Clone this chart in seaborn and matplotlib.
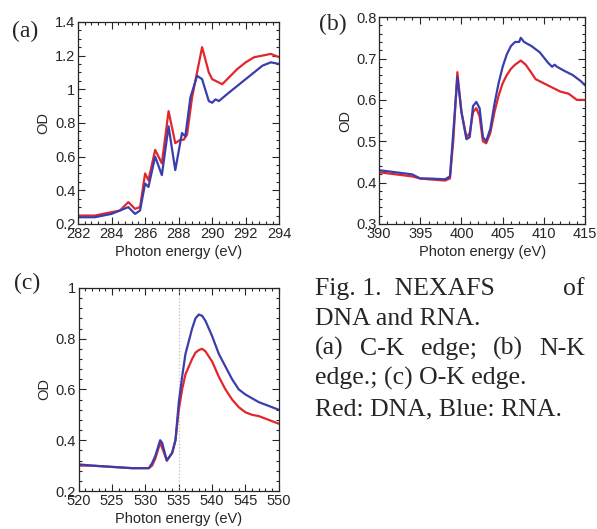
#!/usr/bin/env python3
"""
Purpose: NEXAFS spectra of DNA and RNA (C-K, N-K, O-K edges)
"""

import matplotlib
matplotlib.use('Agg')
import matplotlib.pyplot as plt
from matplotlib.ticker import MultipleLocator, FuncFormatter
import pandas as pd
import seaborn as sns

# --------------------------------------------------
# (a) C-K edge
c_energy = [282, 283, 284, 284.5, 285.0, 285.4, 285.7, 286.0, 286.2, 286.6,
            287.0, 287.4, 287.8, 288.1, 288.3, 288.5, 288.8, 289.0, 289.4,
            289.8, 290.0, 290.6, 291.0, 291.5, 292.0, 292.5, 293.0, 293.5, 294]
c_dna = [0.25, 0.25, 0.27, 0.28, 0.33, 0.29, 0.30, 0.50, 0.46, 0.64,
         0.56, 0.87, 0.68, 0.70, 0.70, 0.73, 0.95, 1.05, 1.25,
         1.10, 1.06, 1.03, 1.07, 1.12, 1.16, 1.19, 1.20, 1.21, 1.19]
c_rna_energy = [282, 283, 284, 284.5, 285.0, 285.4, 285.7, 286.0, 286.2, 286.6,
                287.0, 287.4, 287.8, 288.2, 288.4, 288.7, 289.1, 289.4, 289.8,
                290.0, 290.2, 290.4, 291.0, 291.5, 292.0, 292.5, 293.0, 293.5,
                294]
c_rna = [0.24, 0.24, 0.26, 0.28, 0.30, 0.26, 0.28, 0.44, 0.42, 0.60,
         0.49, 0.78, 0.52, 0.74, 0.72, 0.95, 1.08, 1.06, 0.93,
         0.92, 0.94, 0.93, 0.98, 1.02, 1.06, 1.10, 1.14, 1.16, 1.15]

# (b) N-K edge
n_energy = [390, 392, 394, 395, 396, 398, 398.6, 399.0, 399.5, 400.0, 400.6,
            401.0, 401.4, 401.8, 402.2, 402.6, 403.0, 403.5, 404.0, 404.5,
            405.0, 405.5, 406.0, 406.5, 407.2, 407.8, 408.5, 409.0, 409.5,
            410.0, 411.0, 412.0, 413.0, 414.0, 415.0]
n_dna = [0.425, 0.42, 0.415, 0.41, 0.408, 0.405, 0.41, 0.50, 0.667, 0.57, 0.51,
         0.52, 0.57, 0.58, 0.56, 0.50, 0.495, 0.52, 0.57, 0.61,
         0.64, 0.66, 0.675, 0.685, 0.695, 0.685, 0.665, 0.65, 0.645,
         0.64, 0.63, 0.62, 0.615, 0.60, 0.60]
n_rna_energy = [390, 392, 394, 395, 396, 398, 398.6, 399.0, 399.5, 400.0,
                400.6, 401.0, 401.4, 401.8, 402.2, 402.6, 403.0, 403.5, 404.0,
                404.5, 405.0, 405.5, 406.0, 406.5, 407.0, 407.2, 407.6, 408.5,
                409.5, 410.5, 411.0, 411.3, 411.6, 412.5, 413.5, 414.5, 415.0]
n_rna = [0.43, 0.425, 0.42, 0.41, 0.41, 0.408, 0.415, 0.52, 0.655, 0.57,
         0.505, 0.51, 0.585, 0.595, 0.58, 0.51, 0.50, 0.53, 0.59,
         0.64, 0.68, 0.71, 0.73, 0.74, 0.74, 0.75, 0.74, 0.73,
         0.715, 0.69, 0.68, 0.685, 0.68, 0.67, 0.66, 0.645, 0.635]

# (c) O-K edge
o_energy = [520, 522, 525, 528, 530, 530.5, 531, 531.5, 532.2, 532.5, 533.2,
            534, 534.5, 535, 535.5, 536, 537, 537.5, 538, 538.5, 539, 540,
            541, 542, 543, 544, 545, 546, 547, 548, 549, 550]
o_dna = [0.30, 0.30, 0.295, 0.29, 0.29, 0.29, 0.30, 0.33, 0.39, 0.37, 0.32,
         0.35, 0.40, 0.52, 0.60, 0.66, 0.72, 0.745, 0.755, 0.76, 0.75, 0.71,
         0.65, 0.60, 0.56, 0.53, 0.51, 0.50, 0.495, 0.485, 0.475, 0.465]
o_rna = [0.305, 0.30, 0.295, 0.29, 0.29, 0.29, 0.31, 0.34, 0.40, 0.39, 0.32,
         0.35, 0.40, 0.55, 0.65, 0.74, 0.84, 0.88, 0.895, 0.89, 0.87, 0.81,
         0.74, 0.69, 0.64, 0.60, 0.58, 0.565, 0.55, 0.54, 0.53, 0.52]

# caption lines; None marks a justified line split into words
caption = [
    ('Fig. 1.  NEXAFS', 'of'),
    ('DNA and RNA.', None),
    ('(a) C-K edge; (b) N-K', 'justify'),
    ('edge.; (c) O-K edge.', None),
    ('Red: DNA, Blue: RNA.', None),
]

RED = '#e2262c'
BLUE = '#3a3eac'


# --------------------------------------------------
def make_df(x_dna, y_dna, x_rna, y_rna):
    """long-form table for seaborn"""
    dna = pd.DataFrame({'energy': x_dna, 'od': y_dna, 'sample': 'DNA'})
    rna = pd.DataFrame({'energy': x_rna, 'od': y_rna, 'sample': 'RNA'})
    return pd.concat([dna, rna], ignore_index=True)


# --------------------------------------------------
def draw(ax, df, xlim, ylim, xmaj, xmin, ymaj, ymin):
    """one spectrum panel"""
    sns.lineplot(data=df, x='energy', y='od', hue='sample',
                 hue_order=['DNA', 'RNA'], palette=[RED, BLUE],
                 linewidth=1.6, legend=False, ax=ax, estimator=None,
                 sort=False)
    ax.set_xlim(*xlim)
    ax.set_ylim(*ylim)
    ax.xaxis.set_major_locator(MultipleLocator(xmaj))
    ax.xaxis.set_minor_locator(MultipleLocator(xmin))
    ax.yaxis.set_major_locator(MultipleLocator(ymaj))
    ax.yaxis.set_minor_locator(MultipleLocator(ymin))
    ax.yaxis.set_major_formatter(FuncFormatter(lambda v, p: f'{v:g}'))
    ax.tick_params(which='both', direction='in', top=True, right=True,
                   labelsize=10.5, pad=2)
    ax.tick_params(which='major', length=5, width=0.8)
    ax.tick_params(which='minor', length=2.5, width=0.8)
    ax.set_xlabel('Photon energy (eV)', fontsize=10.5, labelpad=3)
    ax.set_ylabel('OD', fontsize=10.5, labelpad=3)
    for s in ax.spines.values():
        s.set_linewidth(0.9)


# --------------------------------------------------
def main():
    sns.set_style('ticks')
    plt.rcParams['font.family'] = ['Liberation Sans', 'DejaVu Sans']

    fig = plt.figure(figsize=(5.97, 5.29), dpi=100)
    ax_a = fig.add_axes([0.1307, 0.5766, 0.337, 0.382])
    ax_b = fig.add_axes([0.635, 0.5766, 0.345, 0.391])
    ax_c = fig.add_axes([0.132, 0.0718, 0.335, 0.384])

    draw(ax_a, make_df(c_energy, c_dna, c_rna_energy, c_rna),
         (282, 294), (0.2, 1.4), 2, 0.4, 0.2, 0.05)
    draw(ax_b, make_df(n_energy, n_dna, n_rna_energy, n_rna),
         (390, 415), (0.3, 0.8), 5, 1, 0.1, 0.02)
    ax_c.axvline(535, color='#bbbbbb', linestyle=':', linewidth=0.9)
    draw(ax_c, make_df(o_energy, o_dna, o_energy, o_rna),
         (520, 550), (0.2, 1.0), 5, 1, 0.2, 0.04)

    serif = ['Liberation Serif', 'DejaVu Serif']
    W, H = 597, 529
    for label, x, y in [('(a)', 12, 37), ('(b)', 319, 30), ('(c)', 14, 289)]:
        fig.text(x / W, 1 - y / H, label, family=serif, fontsize=17,
                 va='baseline', ha='left')

    # caption, justified by hand between x0 and x1
    cap = dict(family=serif, fontsize=18.5, va='baseline')
    x0, x1 = 315, 585
    renderer = fig.canvas.get_renderer()
    for i, (text, extra) in enumerate(caption):
        y = 1 - (295 + 30 * i) / H
        if extra == 'justify':
            words = text.split()
            arts = [fig.text(0, y, w, ha='left', **cap) for w in words]
            widths = [a.get_window_extent(renderer).width for a in arts]
            gap = (x1 - x0 - sum(widths)) / (len(words) - 1)
            x = x0
            for a, w in zip(arts, widths):
                a.set_x(x / W)
                x += w + gap
        else:
            fig.text(x0 / W, y, text, ha='left', **cap)
            if extra:
                fig.text(x1 / W, y, extra, ha='right', **cap)

    fig.savefig('out.png', dpi=100)


# --------------------------------------------------
if __name__ == '__main__':
    main()
